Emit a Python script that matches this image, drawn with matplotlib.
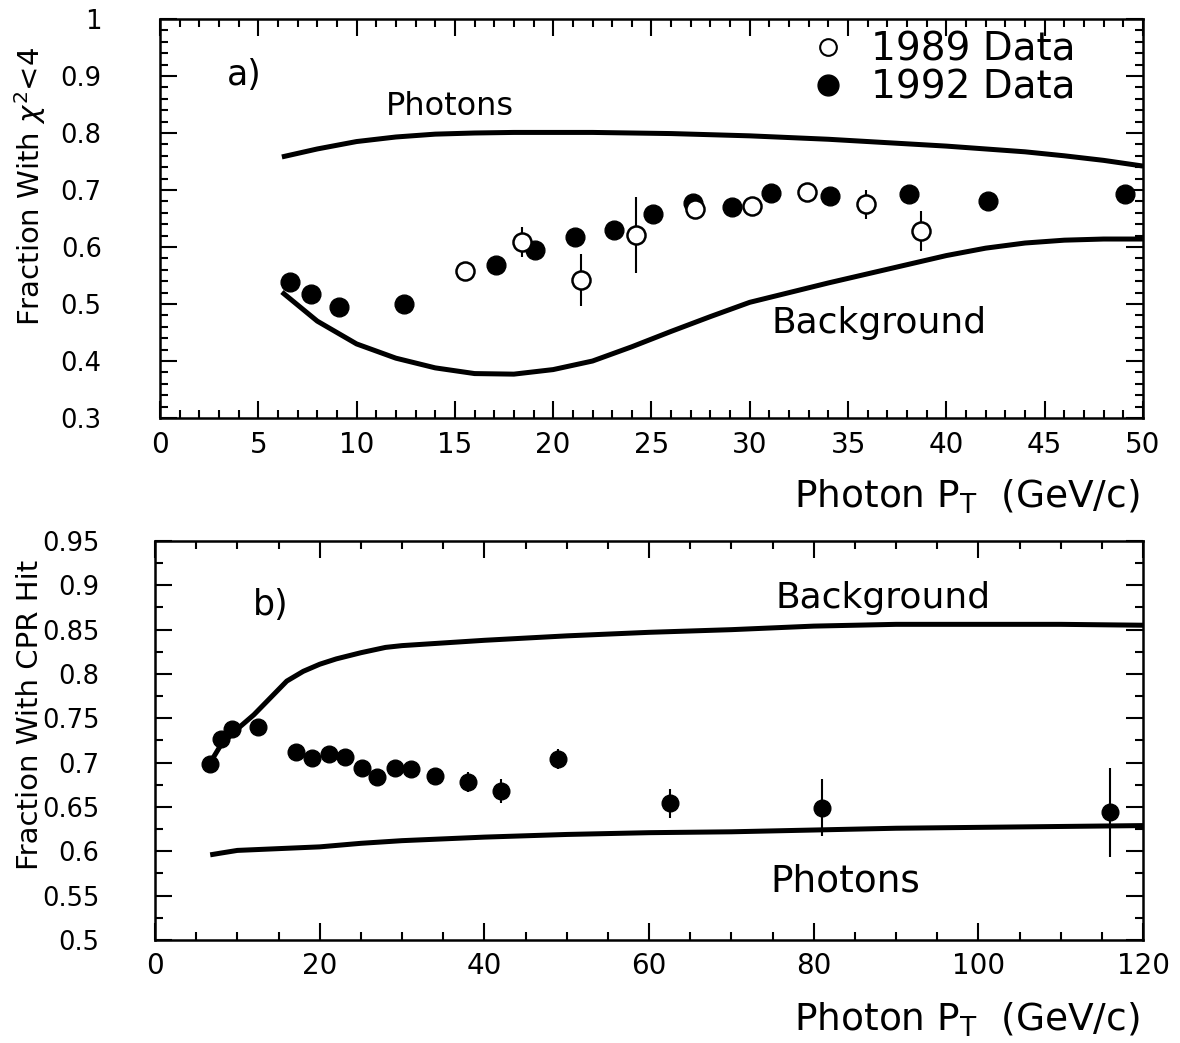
import matplotlib
matplotlib.use("Agg")
import matplotlib.pyplot as plt
from matplotlib.ticker import MultipleLocator
from matplotlib.lines import Line2D

# ---- panel a) : fraction with chi2 < 4 ----
pt_92a = [6.6, 7.7, 9.1, 12.4, 17.1, 19.1, 21.1, 23.1, 25.1, 27.1, 29.1, 31.1, 34.1, 38.1, 42.1, 49.1]
fr_92a = [0.539, 0.518, 0.495, 0.500, 0.568, 0.595, 0.617, 0.630, 0.658, 0.677, 0.670, 0.695, 0.690, 0.693, 0.680, 0.693]
err_92a = [0.006, 0.006, 0.006, 0.006, 0.006, 0.006, 0.007, 0.007, 0.007, 0.007, 0.007, 0.008, 0.008, 0.009, 0.010, 0.010]

pt_89a = [15.5, 18.4, 21.4, 24.2, 27.2, 30.1, 32.9, 35.9, 38.7]
fr_89a = [0.558, 0.609, 0.542, 0.621, 0.667, 0.672, 0.697, 0.675, 0.628]
err_89a = [0.010, 0.026, 0.046, 0.066, 0.008, 0.008, 0.016, 0.025, 0.035]

curve_pt_a = [6.2, 8, 10, 12, 14, 16, 18, 20, 22, 24, 26, 28, 30, 32, 34, 36, 38, 40, 42, 44, 46, 48, 50]
photons_a = [0.758, 0.772, 0.785, 0.793, 0.798, 0.800, 0.801, 0.801, 0.801, 0.800, 0.799, 0.797, 0.795,
             0.792, 0.789, 0.785, 0.781, 0.777, 0.772, 0.767, 0.760, 0.752, 0.742]
backgr_a = [0.521, 0.470, 0.430, 0.405, 0.388, 0.378, 0.377, 0.385, 0.400, 0.425, 0.452, 0.478, 0.503,
            0.520, 0.537, 0.553, 0.569, 0.585, 0.598, 0.607, 0.612, 0.614, 0.614]

# ---- panel b) : fraction with CPR hit ----
pt_b = [6.7, 8.0, 9.3, 12.5, 17.1, 19.1, 21.1, 23.1, 25.1, 27.0, 29.1, 31.1, 34.0, 38.0, 42.0, 49.0, 62.5, 81.0, 116.0]
fr_b = [0.698, 0.727, 0.738, 0.740, 0.712, 0.705, 0.710, 0.706, 0.694, 0.684, 0.694, 0.693, 0.685, 0.678,
        0.668, 0.704, 0.654, 0.649, 0.644]
err_b = [0.004, 0.004, 0.004, 0.004, 0.005, 0.005, 0.005, 0.005, 0.006, 0.006, 0.007, 0.008, 0.008, 0.011,
         0.013, 0.011, 0.016, 0.032, 0.050]

curve_pt_bg = [6.7, 8, 10, 12, 14, 16, 18, 20, 22, 25, 28, 30, 35, 40, 50, 60, 70, 80, 90, 100, 110, 120]
backgr_b = [0.700, 0.720, 0.738, 0.754, 0.773, 0.792, 0.803, 0.811, 0.817, 0.824, 0.830, 0.832, 0.835,
            0.838, 0.843, 0.847, 0.850, 0.854, 0.856, 0.856, 0.856, 0.855]
curve_pt_ph = [6.7, 8, 10, 15, 20, 25, 30, 40, 50, 60, 70, 80, 90, 100, 110, 120]
photons_b = [0.596, 0.598, 0.601, 0.603, 0.605, 0.609, 0.612, 0.616, 0.619, 0.621, 0.622, 0.624, 0.626,
             0.627, 0.628, 0.629]

XFS = 20
YFS = 18.5
plt.rcParams["font.family"] = ["DejaVu Sans"]
plt.rcParams["mathtext.fontset"] = "dejavusans"

fig = plt.figure(figsize=(11.8, 10.43), dpi=100)
ax1 = fig.add_axes([0.1356, 0.5992, 0.833, 0.3826])
ax2 = fig.add_axes([0.1314, 0.0988, 0.8373, 0.3825])


def style(ax, xmaj, xmin, ymaj, ymin, ypad, nd):
    for s in ax.spines.values():
        s.set_linewidth(1.8)
    ax.xaxis.set_major_locator(MultipleLocator(xmaj))
    ax.xaxis.set_minor_locator(MultipleLocator(xmin))
    ax.yaxis.set_major_locator(MultipleLocator(ymaj))
    ax.yaxis.set_minor_locator(MultipleLocator(ymin))
    ax.yaxis.set_major_formatter(plt.FuncFormatter(lambda v, p: "%g" % round(v, nd)))
    ax.tick_params(which="both", direction="in", top=True, right=True, width=1.5)
    ax.tick_params(which="major", length=12)
    ax.tick_params(which="minor", length=6)
    ax.tick_params(axis="x", which="major", labelsize=XFS, pad=9)
    ax.tick_params(axis="y", which="major", labelsize=YFS, pad=ypad)


# panel a
ax1.plot(curve_pt_a, photons_a, color="black", lw=3.6, solid_capstyle="butt")
ax1.plot(curve_pt_a, backgr_a, color="black", lw=3.6, solid_capstyle="butt")
ax1.errorbar(pt_92a, fr_92a, yerr=err_92a, fmt="o", color="black", ms=13.5, elinewidth=1.5,
             capsize=0, zorder=3)
ax1.errorbar(pt_89a, fr_89a, yerr=err_89a, fmt="o", mfc="white", mec="black", mew=1.8,
             color="black", ms=13, elinewidth=1.5, capsize=0, zorder=4)
ax1.set_xlim(0, 50)
ax1.set_ylim(0.3, 1.0)
style(ax1, 5, 1, 0.1, 0.02, 42, 2)

ax1.text(4.3, 0.902, "a)", fontsize=25, ha="center", va="center")
ax1.text(14.75, 0.846, "Photons", fontsize=23, ha="center", va="center")
ax1.text(36.6, 0.467, "Background", fontsize=26, ha="center", va="center")

handles = [
    Line2D([], [], ls="none", marker="o", mfc="white", mec="black", mew=1.5, ms=12),
    Line2D([], [], ls="none", marker="o", color="black", ms=15),
]
ax1.legend(handles, ["1989 Data", "1992 Data"], loc="upper right", bbox_to_anchor=(0.955, 1.03),
           frameon=False, fontsize=28, handletextpad=0.6, labelspacing=0.0, handlelength=1.0,
           borderaxespad=0.2)

fig.text(0.0254, 0.8217, r"Fraction With $\chi^2$<4", fontsize=21, rotation=90,
         ha="center", va="center")
fig.text(0.966, 0.524, r"Photon P$_\mathrm{T}$  (GeV/c)", fontsize=27, ha="right", va="center")

# panel b
ax2.plot(curve_pt_bg, backgr_b, color="black", lw=3.6, solid_capstyle="butt")
ax2.plot(curve_pt_ph, photons_b, color="black", lw=3.6, solid_capstyle="butt")
ax2.errorbar(pt_b, fr_b, yerr=err_b, fmt="o", color="black", ms=12, elinewidth=1.5, capsize=0, zorder=3)
ax2.set_xlim(0, 120)
ax2.set_ylim(0.5, 0.95)
style(ax2, 20, 5, 0.05, 0.025, 40, 3)

ax2.text(14, 0.878, "b)", fontsize=25, ha="center", va="center")
ax2.text(88.4, 0.886, "Background", fontsize=26, ha="center", va="center")
ax2.text(83.8, 0.566, "Photons", fontsize=27, ha="center", va="center")

fig.text(0.0254, 0.3145, "Fraction With CPR Hit", fontsize=21, rotation=90,
         ha="center", va="center")
fig.text(0.966, 0.022, r"Photon P$_\mathrm{T}$  (GeV/c)", fontsize=27, ha="right", va="center")

fig.savefig("out.png", dpi=100)
